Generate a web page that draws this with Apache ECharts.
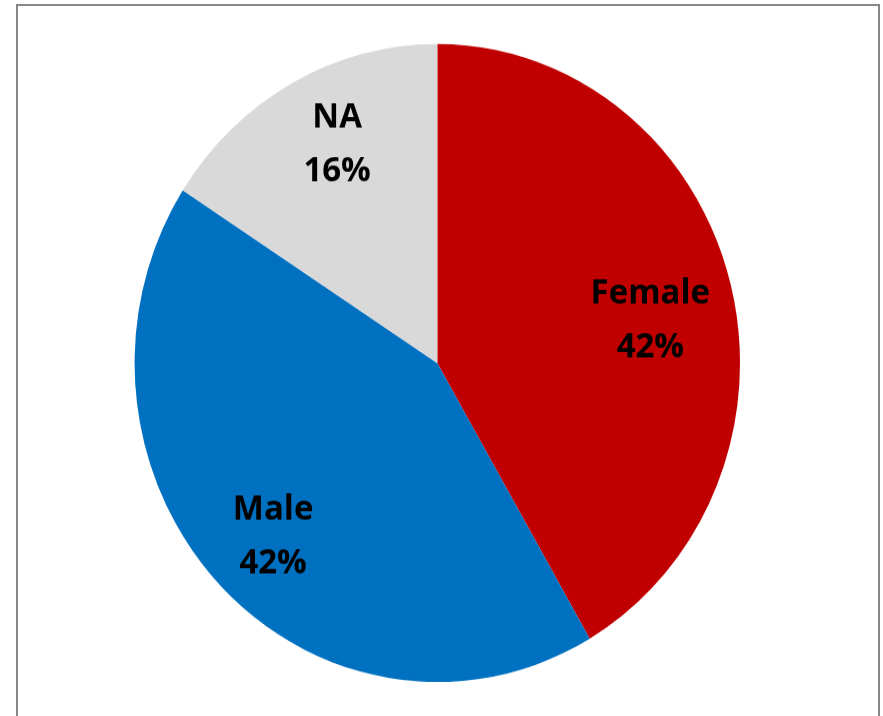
<!DOCTYPE html>
<html>
<head>
<meta charset="utf-8">
<script src="https://cdn.jsdelivr.net/npm/echarts@6/dist/echarts.min.js"></script>
<style>
  html, body { margin: 0; padding: 0; background: #fff; width: 883px; height: 716px; overflow: hidden; }
  #frame { position: absolute; left: 16px; top: 4px; width: 860px; height: 800px; border: 2px solid #878787; }
  #chart { position: absolute; left: 0; top: 0; width: 883px; height: 680px; transform-origin: 0 0; transform: scaleY(1.054); }
</style>
</head>
<body>
<div id="frame"></div>
<div id="chart"></div>
<script>
const categories = ['Female', 'Male', 'NA'];
const values = [41.6, 42.5, 15.9];
const percentLabels = ['42%', '42%', '16%'];

const colors = { Female: '#C00000', Male: '#0070C0', NA: '#D9D9D9' };
const nudge = { Female: [-9, 20], Male: [2, 6], NA: [10, -5] };

const chart = echarts.init(document.getElementById('chart'), null, { renderer: 'canvas' });
const center = [437.3, 344.4];
const R = 302.7;

const pieData = categories.map((c, i) => ({
  name: c, value: values[i],
  itemStyle: { color: colors[c] }
}));
const labelData = categories.map((c, i) => ({
  name: c, value: values[i],
  itemStyle: { color: 'rgba(0,0,0,0)' },
  label: { offset: nudge[c] }
}));

chart.setOption({
  animation: false,
  backgroundColor: 'transparent',
  series: [
    {
      type: 'pie', center: center, radius: [0, R], startAngle: 90, clockwise: true,
      label: { show: false }, labelLine: { show: false }, silent: true,
      data: pieData
    },
    {
      type: 'pie', center: center, radius: [0, R * 1.5], startAngle: 90, clockwise: true,
      silent: true, z: 5,
      label: {
        show: true, position: 'inside',
        formatter: p => p.name + '\n' + percentLabels[p.dataIndex],
        fontFamily: 'Open Sans', fontWeight: 'bold', fontSize: 33, lineHeight: 51,
        color: '#000', align: 'center'
      },
      labelLine: { show: false },
      data: labelData
    }
  ]
});
</script>
</body>
</html>
